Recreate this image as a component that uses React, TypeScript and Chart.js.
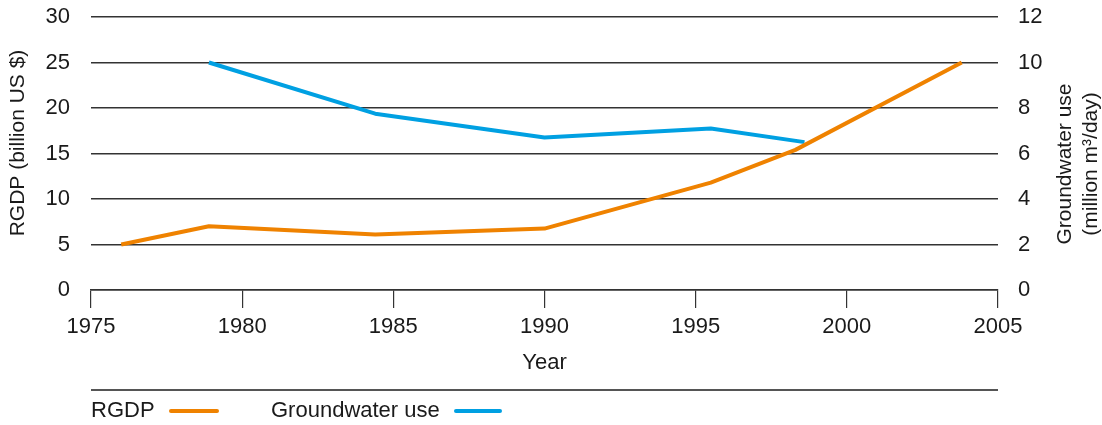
import React, { useEffect, useRef } from "react";
import { Chart, registerables } from "chart.js";

Chart.register(...registerables);

const rgdpYears = [1976, 1978.9, 1984.4, 1990, 1995.5, 1998.3, 2003.8];
const rgdpValues = [5.0, 7.0, 6.1, 6.75, 11.8, 15.4, 25.0];
const gwYears = [1978.9, 1984.4, 1990, 1995.5, 1998.6];
const gwValues = [10.0, 7.75, 6.7, 7.1, 6.5];

const leftTitle = "RGDP (billion US $)";
const rightTitle = ["Groundwater use", "(million m\u00b3/day)"];
const xTitle = "Year";
const legendLabels = ["RGDP", "Groundwater use"];

const ORANGE = "#EF8200";
const BLUE = "#00A0E2";
const FONT = "'Liberation Sans', Arial, sans-serif";
const TEXT = "#1a1a1a";
const FS = 22;

const decorPlugin = {
  id: "decor",
  afterDraw(chart: any) {
    const ctx = chart.ctx;
    const area = chart.chartArea;
    ctx.save();
    ctx.fillStyle = TEXT;
    ctx.font = `${FS - 1}px ${FONT}`;
    ctx.textAlign = "center";
    ctx.textBaseline = "middle";
    // left title
    ctx.save();
    ctx.translate(18, 143);
    ctx.rotate(-Math.PI / 2);
    ctx.fillText(leftTitle, 0, 0);
    ctx.restore();
    // right title
    ctx.save();
    ctx.translate(1065, 164);
    ctx.rotate(-Math.PI / 2);
    ctx.fillText(rightTitle[0], 0, 0);
    ctx.fillText(rightTitle[1], 0, 26);
    ctx.restore();
    ctx.font = `${FS}px ${FONT}`;
    // x title
    ctx.fillText(xTitle, (area.left + area.right) / 2, 363);
    // separator
    ctx.strokeStyle = "#555";
    ctx.lineWidth = 2;
    ctx.beginPath();
    ctx.moveTo(area.left, 390);
    ctx.lineTo(area.right, 390);
    ctx.stroke();
    // legend
    const ly = 411;
    ctx.textAlign = "left";
    ctx.fillText(legendLabels[0], 91, ly);
    ctx.fillText(legendLabels[1], 271, ly);
    ctx.lineWidth = 4;
    ctx.lineCap = "round";
    ctx.strokeStyle = ORANGE;
    ctx.beginPath();
    ctx.moveTo(171, ly);
    ctx.lineTo(217, ly);
    ctx.stroke();
    ctx.strokeStyle = BLUE;
    ctx.beginPath();
    ctx.moveTo(456, ly);
    ctx.lineTo(500, ly);
    ctx.stroke();
    ctx.restore();
  },
};

export default function App() {
  const canvasRef = useRef<HTMLCanvasElement | null>(null);

  useEffect(() => {
    document.body.style.margin = "0";
    const canvas = canvasRef.current;
    if (!canvas) return;
    const chart = new Chart(canvas, {
      type: "line",
      data: {
        datasets: [
          {
            label: legendLabels[0],
            data: rgdpYears.map((x, i) => ({ x, y: rgdpValues[i] })),
            borderColor: ORANGE,
            backgroundColor: ORANGE,
            borderWidth: 4,
            pointRadius: 0,
            tension: 0,
            borderJoinStyle: "round",
            yAxisID: "y",
          },
          {
            label: legendLabels[1],
            data: gwYears.map((x, i) => ({ x, y: gwValues[i] })),
            borderColor: BLUE,
            backgroundColor: BLUE,
            borderWidth: 4,
            pointRadius: 0,
            tension: 0,
            borderJoinStyle: "round",
            yAxisID: "y1",
          },
        ],
      },
      options: {
        animation: false,
        responsive: true,
        maintainAspectRatio: false,
        layout: { padding: { top: 17, left: 0, right: 0, bottom: 0 } },
        plugins: {
          legend: { display: false },
          tooltip: { enabled: false },
        },
        scales: {
          x: {
            type: "linear",
            min: 1975,
            max: 2005,
            afterFit: (s: any) => {
              s.height = 135;
            },
            ticks: {
              stepSize: 5,
              padding: 6,
              color: TEXT,
              font: { family: FONT, size: FS },
              maxRotation: 0,
              callback: (v: any) => String(v),
            },
            grid: {
              display: true,
              drawOnChartArea: false,
              drawTicks: true,
              tickLength: 18,
              color: "#333",
              lineWidth: 1.2,
            },
            border: { display: true, color: "#333", width: 1.5 },
          },
          y: {
            position: "left",
            min: 0,
            max: 30,
            afterFit: (s: any) => {
              s.width = 91;
              s.paddingTop = 0;
              s.paddingBottom = 0;
            },
            ticks: {
              stepSize: 5,
              padding: 21,
              color: TEXT,
              font: { family: FONT, size: FS },
            },
            grid: {
              color: "#333",
              lineWidth: 1.5,
              drawTicks: false,
            },
            border: { display: false },
          },
          y1: {
            position: "right",
            min: 0,
            max: 12,
            afterFit: (s: any) => {
              s.width = 104;
              s.paddingTop = 0;
              s.paddingBottom = 0;
            },
            ticks: {
              stepSize: 2,
              padding: 20,
              color: TEXT,
              font: { family: FONT, size: FS },
            },
            grid: { display: false, drawTicks: false },
            border: { display: false },
          },
        },
      },
      plugins: [decorPlugin],
    });
    return () => chart.destroy();
  }, []);

  return (
    <div style={{ width: 1102, height: 425, position: "relative" }}>
      <canvas ref={canvasRef} />
    </div>
  );
}
